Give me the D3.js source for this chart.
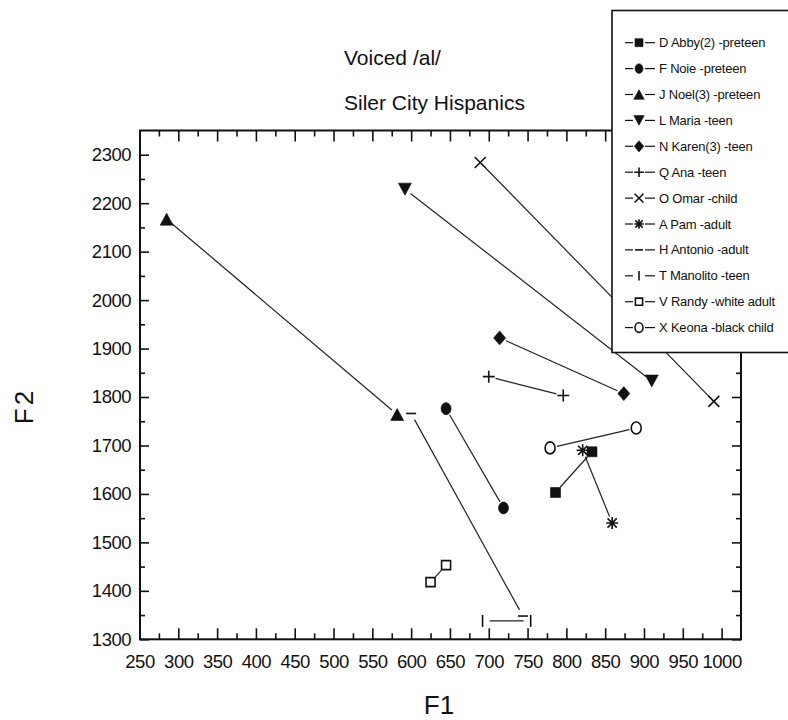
<!DOCTYPE html>
<html>
<head>
<meta charset="utf-8">
<script src="https://cdn.jsdelivr.net/npm/d3@7"></script>
<style>
  html, body { margin: 0; padding: 0; background: #fff; }
  svg { display: block; }
  text { font-family: "Liberation Sans", Arial, sans-serif; fill: #111; }
</style>
</head>
<body>
<svg id="chart" width="788" height="720"></svg>
<script>
// ---------------- data ----------------
const seriesNames = [
  "D Abby(2) -preteen",
  "F Noie -preteen",
  "J Noel(3) -preteen",
  "L Maria -teen",
  "N Karen(3) -teen",
  "Q Ana -teen",
  "O Omar -child",
  "A Pam -adult",
  "H Antonio -adult",
  "T Manolito -teen",
  "V Randy -white adult",
  "X Keona -black child"
];
const seriesSymbols = [
  "square", "circle", "triangleUp", "triangleDown", "diamond", "plus",
  "x", "asterisk", "dash", "bar", "openSquare", "openCircle"
];
// F1 values (first point, second point) for each speaker
const f1Values = [
  [786, 833],
  [645, 719],
  [285, 582],
  [592, 910],
  [714, 874],
  [700, 796],
  [689, 990],
  [821, 859],
  [600, 744],
  [692, 754],
  [625, 645],
  [779, 890]
];
// F2 values (first point, second point) for each speaker
const f2Values = [
  [1603, 1687],
  [1776, 1571],
  [2167, 1764],
  [2229, 1833],
  [1922, 1807],
  [1842, 1803],
  [2284, 1791],
  [1690, 1540],
  [1766, 1348],
  [1338, 1338],
  [1418, 1453],
  [1695, 1736]
];
const xTicks = [250,300,350,400,450,500,550,600,650,700,750,800,850,900,950,1000];
const xMinorTicks = d3.range(275, 1025, 50);
const yTicks = [1300,1400,1500,1600,1700,1800,1900,2000,2100,2200,2300];
const yMinorTicks = d3.range(1350, 2350, 100);
const titleLines = ["Voiced /al/", "Siler City Hispanics"];
const xTitle = "F1";
const yTitle = "F2";

// ---------------- layout ----------------
const svg = d3.select("#chart");
const plot = { left: 140, right: 741, top: 130.5, bottom: 639.3 };

const x = d3.scaleLinear().domain([250, 1025]).range([139.5, 741]);
const y = d3.scaleLinear().domain([1300, 2350]).range([639.3, 130.5]);

// ---------------- symbols ----------------
function symbolPath(type, s) {
  s = s || 1;
  const p = d3.path();
  switch (type) {
    case "square": case "openSquare": {
      const h = (type === "square" ? 5 : 4.5) * s;
      p.rect(-h, -h, 2 * h, 2 * h); break;
    }
    case "circle": case "openCircle": {
      const rx = 5 * s, ry = 6 * s;
      const k = 0.5523;
      p.moveTo(rx, 0);
      p.bezierCurveTo(rx, ry * k, rx * k, ry, 0, ry);
      p.bezierCurveTo(-rx * k, ry, -rx, ry * k, -rx, 0);
      p.bezierCurveTo(-rx, -ry * k, -rx * k, -ry, 0, -ry);
      p.bezierCurveTo(rx * k, -ry, rx, -ry * k, rx, 0);
      p.closePath(); break;
    }
    case "triangleUp": {
      const w = 6.5 * s, h = 6 * s;
      p.moveTo(0, -h); p.lineTo(w, h); p.lineTo(-w, h); p.closePath(); break;
    }
    case "triangleDown": {
      const w = 6.5 * s, h = 6 * s;
      p.moveTo(0, h); p.lineTo(w, -h); p.lineTo(-w, -h); p.closePath(); break;
    }
    case "diamond": {
      const w = 6 * s, h = 7 * s;
      p.moveTo(0, -h); p.lineTo(w, 0); p.lineTo(0, h); p.lineTo(-w, 0); p.closePath(); break;
    }
    case "plus": {
      const h = 6 * s;
      p.moveTo(-h, 0); p.lineTo(h, 0); p.moveTo(0, -h); p.lineTo(0, h); break;
    }
    case "x": {
      const h = 5.5 * s;
      p.moveTo(-h, -h); p.lineTo(h, h); p.moveTo(h, -h); p.lineTo(-h, h); break;
    }
    case "asterisk": {
      const h = 6 * s, d = 4.6 * s;
      p.moveTo(-h, 0); p.lineTo(h, 0); p.moveTo(0, -h); p.lineTo(0, h);
      p.moveTo(-d, -d); p.lineTo(d, d); p.moveTo(d, -d); p.lineTo(-d, d); break;
    }
    case "dash": {
      const h = 5 * s;
      p.moveTo(-h, 0); p.lineTo(h, 0); break;
    }
    case "bar": {
      const h = 6 * s;
      p.moveTo(0, -h); p.lineTo(0, h); break;
    }
  }
  return p.toString();
}
const filledTypes = new Set(["square", "circle", "triangleUp", "triangleDown", "diamond"]);
function styleSymbol(sel, type) {
  if (filledTypes.has(type)) {
    sel.attr("fill", "#111").attr("stroke", "#111").attr("stroke-width", 0.6);
  } else {
    sel.attr("fill", type === "openSquare" || type === "openCircle" ? "#fff" : "none")
       .attr("stroke", "#111").attr("stroke-width", 1.6);
  }
}

// ---------------- series data ----------------
const series = seriesNames.map((name, i) => ({
  name,
  symbol: seriesSymbols[i],
  points: f1Values[i].map((f1, j) => ({ f1, f2: f2Values[i][j] }))
}));

// ---------------- axes ----------------
const gAxes = svg.append("g");

function styleAxis(g) {
  g.select(".domain").remove();
  g.selectAll(".tick line").attr("stroke", "#111").attr("stroke-width", 1.6);
  g.selectAll(".tick text").style("font-size", "18.5px").attr("fill", "#111")
    .style("letter-spacing", "-0.5px");
}

// bottom
gAxes.append("g").attr("transform", `translate(0,${plot.bottom})`)
  .call(d3.axisBottom(x).tickValues(xTicks).tickSizeInner(-11).tickSizeOuter(0).tickPadding(16).tickFormat(d3.format("d")))
  .call(styleAxis);
gAxes.append("g").attr("transform", `translate(0,${plot.bottom})`)
  .call(d3.axisBottom(x).tickValues(xMinorTicks).tickSizeInner(-6).tickSizeOuter(0).tickFormat(""))
  .call(styleAxis);
// top
gAxes.append("g").attr("transform", `translate(0,${plot.top})`)
  .call(d3.axisTop(x).tickValues(xTicks).tickSizeInner(-11).tickSizeOuter(0).tickFormat(""))
  .call(styleAxis);
gAxes.append("g").attr("transform", `translate(0,${plot.top})`)
  .call(d3.axisTop(x).tickValues(xMinorTicks).tickSizeInner(-6).tickSizeOuter(0).tickFormat(""))
  .call(styleAxis);
// left
gAxes.append("g").attr("transform", `translate(${plot.left},0)`)
  .call(d3.axisLeft(y).tickValues(yTicks).tickSizeInner(-9).tickSizeOuter(0).tickPadding(9).tickFormat(d3.format("d")))
  .call(styleAxis);
gAxes.append("g").attr("transform", `translate(${plot.left},0)`)
  .call(d3.axisLeft(y).tickValues(yMinorTicks).tickSizeInner(-5).tickSizeOuter(0).tickFormat(""))
  .call(styleAxis);
// right
gAxes.append("g").attr("transform", `translate(${plot.right},0)`)
  .call(d3.axisRight(y).tickValues(yTicks).tickSizeInner(-9).tickSizeOuter(0).tickFormat(""))
  .call(styleAxis);
gAxes.append("g").attr("transform", `translate(${plot.right},0)`)
  .call(d3.axisRight(y).tickValues(yMinorTicks).tickSizeInner(-5).tickSizeOuter(0).tickFormat(""))
  .call(styleAxis);

// frame
gAxes.append("rect")
  .attr("x", plot.left).attr("y", plot.top)
  .attr("width", plot.right - plot.left).attr("height", plot.bottom - plot.top)
  .attr("fill", "none").attr("stroke", "#111").attr("stroke-width", 2);

// ---------------- data lines (with gaps at symbols) ----------------
const gap = 7;
const gLines = svg.append("g");
series.forEach(s => {
  for (let j = 0; j < s.points.length - 1; j++) {
    const a = s.points[j], b = s.points[j + 1];
    const x1 = x(a.f1), y1 = y(a.f2), x2 = x(b.f1), y2 = y(b.f2);
    const len = Math.hypot(x2 - x1, y2 - y1);
    if (len <= 2 * gap) continue;
    const ux = (x2 - x1) / len, uy = (y2 - y1) / len;
    gLines.append("line")
      .attr("x1", x1 + ux * gap).attr("y1", y1 + uy * gap)
      .attr("x2", x2 - ux * gap).attr("y2", y2 - uy * gap)
      .attr("stroke", "#222").attr("stroke-width", 1.2);
  }
});

// ---------------- symbols ----------------
const gSym = svg.append("g");
series.forEach(s => {
  gSym.selectAll(null).data(s.points).enter().append("path")
    .attr("transform", d => `translate(${x(d.f1)},${y(d.f2)})`)
    .attr("d", symbolPath(s.symbol, 1))
    .call(sel => styleSymbol(sel, s.symbol));
});

// ---------------- titles ----------------
svg.append("text").attr("x", 344).attr("y", 65).text(titleLines[0])
  .style("font-size", "21px").style("letter-spacing", "0px");
svg.append("text").attr("x", 344).attr("y", 110).text(titleLines[1])
  .style("font-size", "21px").style("letter-spacing", "0px");

svg.append("text").attr("x", 439).attr("y", 714).attr("text-anchor", "middle")
  .text(xTitle).style("font-size", "26px");
svg.append("text").attr("transform", "translate(33,406) rotate(-90)")
  .attr("text-anchor", "middle").text(yTitle).style("font-size", "26px")
  .style("letter-spacing", "3px");

// ---------------- legend ----------------
const lg = svg.append("g");
lg.append("rect").attr("x", 612).attr("y", 10.5).attr("width", 200).attr("height", 342)
  .attr("fill", "#fff").attr("stroke", "#111").attr("stroke-width", 1.6);
const legendY0 = 42.7, legendStep = 25.9;
series.forEach((s, i) => {
  const cy = legendY0 + i * legendStep;
  const g = lg.append("g").attr("transform", `translate(0,${cy})`);
  g.append("line").attr("x1", 625).attr("x2", 633).attr("y1", 0).attr("y2", 0)
    .attr("stroke", "#111").attr("stroke-width", 1.2);
  g.append("line").attr("x1", 645).attr("x2", 655).attr("y1", 0).attr("y2", 0)
    .attr("stroke", "#111").attr("stroke-width", 1.2);
  g.append("path").attr("transform", "translate(639,0)")
    .attr("d", symbolPath(s.symbol, 0.8))
    .call(sel => styleSymbol(sel, s.symbol));
  g.append("text").attr("x", 659).attr("y", 4.5).text(s.name)
    .style("font-size", "13px").style("letter-spacing", "-0.2px");
});
</script>
</body>
</html>
